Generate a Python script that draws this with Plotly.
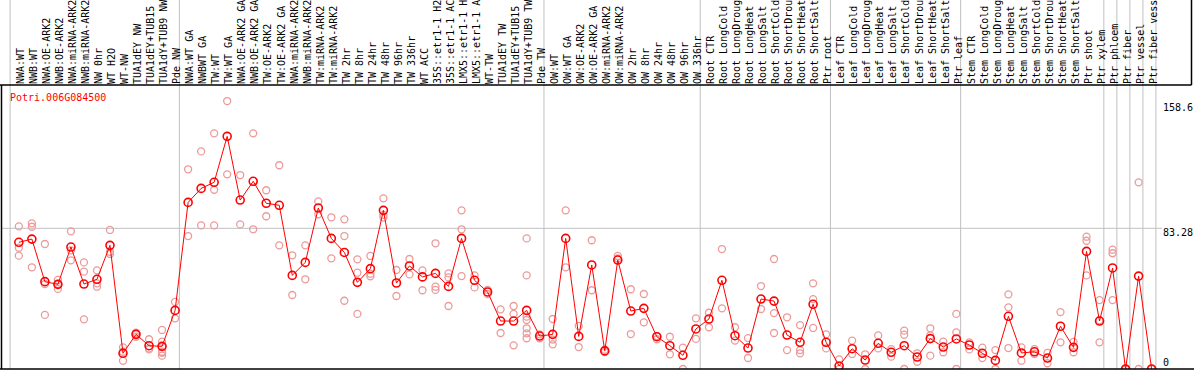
import plotly.graph_objects as go

categories = [
    "NWA:WT", "NWB:WT", "NWA:OE-ARK2", "NWB:OE-ARK2", "NWA:miRNA-ARK2", "NWB:miRNA-ARK2",
    "NW 0hr", "WT H2O", "WT-NW", "TUA1dEY NW", "TUA1dEY+TUB15 NW", "TUA1dY+TUB9 NW", "Pde NW",
    "NWA:WT GA", "NWBWT GA", "TW:WT", "TW:WT GA", "NWA:OE-ARK2 GA", "NWB:OE-ARK2 GA",
    "TW:OE-ARK2", "TW:OE-ARK2 GA", "NWA:miRNA-ARK2 GA", "NWB:miRNA-ARK2 GA", "TW:miRNA-ARK2",
    "TW:miRNA-ARK2 GA", "TW 2hr", "TW 8hr", "TW 24hr", "TW 48hr", "TW 96hr", "TW 336hr",
    "WT ACC", "35S::etr1-1 H2O", "35S::etr1-1 ACC", "LMX5::etr1-1 H2O", "LMX5::etr1-1 ACC",
    "WT-TW", "TUA1dEY TW", "TUA1dEY+TUB15 TW", "TUA1dY+TUB9 TW", "Pde TW",
    "OW:WT", "OW:WT GA", "OW:OE-ARK2", "OW:OE-ARK2 GA", "OW:miRNA-ARK2", "OW:miRNA-ARK2 GA",
    "OW 2hr", "OW 8hr", "OW 24hr", "OW 48hr", "OW 96hr", "OW 336hr",
    "Root CTR", "Root LongCold", "Root LongDrought", "Root LongHeat", "Root LongSalt",
    "Root ShortCold", "Root ShortDrought", "Root ShortHeat", "Root ShortSalt", "Ptr root",
    "Leaf CTR", "Leaf LongCold", "Leaf LongDrought", "Leaf LongHeat", "Leaf LongSalt",
    "Leaf ShortCold", "Leaf ShortDrought", "Leaf ShortHeat", "Leaf ShortSalt", "Ptr leaf",
    "Stem CTR", "Stem LongCold", "Stem LongDrought", "Stem LongHeat", "Stem LongSalt",
    "Stem ShortCold", "Stem ShortDrought", "Stem ShortHeat", "Stem ShortSalt", "Ptr shoot",
    "Ptr xylem", "Ptr phloem", "Ptr fiber", "Ptr vessel", "Ptr fiber vessel",
]

means = [
    75.0, 76.9, 51.7, 50.1, 72.2, 50.3, 53.1, 73.2, 9.3, 20.5, 13.8, 13.4, 34.7,
    98.6, 106.9, 110.5, 137.7, 100.0, 111.1, 98.1, 96.9, 55.4, 63.1, 95.3, 77.3,
    69.0, 51.3, 59.4, 93.9, 50.9, 61.0, 54.5, 56.6, 48.9, 77.3, 52.5, 45.6, 28.4,
    28.4, 34.7, 19.5,
    20.5, 77.3, 19.3, 61.6, 10.7, 64.5, 34.3, 35.9, 19.1, 13.8, 8.1, 23.7,
    29.6, 52.5, 19.7, 12.4, 41.4, 40.2, 20.1, 15.8, 38.3, 15.8,
    1.8, 12.0, 5.3, 15.2, 9.9, 13.8, 7.1, 18.0, 13.0, 17.8,
    14.2, 9.3, 5.1, 31.2, 9.5, 10.2, 6.5, 25.3, 12.8, 69.6, 28.4,
    59.8, 0.0, 55.0, 0.0,
]

replicates = [
    [84.4, 71.8, 67.1], [86.2, 84.2, 60.2], [74.0, 50.3, 32.0], [52.7, 47.4, 50.3],
    [81.5, 70.2, 64.3], [63.1, 57.6, 29.4], [58.4, 50.7, 48.7], [82.3, 69.4, 68.1],
    [12.8, 4.9, 10.2], [21.5, 19.1, 21.0], [17.6, 11.6, 12.2],
    [23.1, 16.2, 13.4, 10.2, 7.9, 9.6], [39.7, 30.0],
    [118.2, 78.7], [128.8, 85.0], [139.5, 106.1, 85.0], [158.6, 115.2], [114.8, 85.6],
    [139.5, 82.7], [105.8, 90.4], [120.6, 73.2], [67.3, 43.8], [73.2, 53.1], [99.2, 91.6],
    [89.8, 65.5], [88.6, 78.7, 40.4], [64.9, 57.0, 32.6], [66.9, 56.4, 54.9],
    [101.0, 89.6, 91.2], [58.6, 43.2], [65.1, 56.0], [58.4, 46.6], [74.4, 48.7, 46.8],
    [56.6, 54.2, 37.3], [93.9, 82.7, 55.0], [55.4, 48.3], [44.4, 46.8], [35.3, 21.3],
    [37.3, 32.6, 14.0], [77.3, 55.4, 31.0, 29.0, 24.1, 21.1, 18.2], [20.5, 18.2],
    [29.6, 14.6, 17.4], [93.9, 60.2], [25.5, 13.0], [76.2, 46.6], [11.4, 10.0],
    [66.9, 65.5], [47.2, 20.7], [44.4, 27.6], [17.6, 19.5], [19.1, 8.7], [12.6, 0.0],
    [30.0, 17.8],
    [33.3, 24.7], [71.0, 35.9], [24.7, 16.8], [18.3, 6.5], [49.1, 35.5],
    [65.1, 33.1, 21.3], [30.6, 11.2], [26.0, 11.2, 9.3], [50.7, 41.4, 24.3], [20.5, 12.2],
    [5.7, 0.0], [16.8, 8.9], [8.7, 0.0], [19.9, 12.2], [11.8, 7.3], [22.7, 20.3, 0.0],
    [9.3, 4.3], [24.1, 19.9, 7.9], [16.2, 9.9], [32.6, 21.7, 0.0],
    [15.8, 11.6], [12.6, 6.5], [11.2, 0.0], [44.2, 36.5, 12.4], [12.8, 4.9], [11.8, 8.9],
    [9.5, 3.4], [33.7, 15.8], [16.0, 9.9], [78.3, 75.9, 55.4], [40.8, 15.8, 28.9],
    [70.6, 68.5, 40.8], [0.0, 0.0], [110.5, 0.0], [0.0],
]

group_starts = [0, 13, 41, 53, 63, 73, 84, 85, 86, 87, 88]
y_ticks = [158.6, 83.28, 0]
gene = "Potri.006G084500"

MONO = "DejaVu Sans Mono"
W, H = 1194, 370
ML, MR, MT, MB = 1, 33, 85, 1
plot_w = W - ML - MR
plot_h = H - MT - MB
x_min, x_max = -1.37, 87.72
y_min, y_max = 0, 168.1

idx = list(range(len(categories)))
rep_x, rep_y = [], []
for i, reps in enumerate(replicates):
    for v in reps:
        rep_x.append(i)
        rep_y.append(v)

fig = go.Figure()
fig.add_trace(go.Scatter(
    x=rep_x, y=rep_y, mode="markers",
    marker=dict(symbol="circle-open", size=7, color="#ec9a9a", line=dict(width=1.3)),
    hoverinfo="skip", showlegend=False,
))
fig.add_trace(go.Scatter(
    x=idx, y=means, mode="lines+markers",
    line=dict(color="#ff0000", width=1),
    marker=dict(symbol="circle-open", size=8, color="#ff0000", line=dict(width=1.6)),
    showlegend=False,
))


def xpaper_from_px(px):
    return (px - ML) / plot_w


def xpaper_from_idx(v):
    return (v - x_min) / (x_max - x_min)


shapes = []
top_paper = 1 + MT / plot_h
for b in group_starts:
    xp = xpaper_from_idx(b - 0.67)
    shapes.append(dict(type="line", xref="paper", yref="paper", x0=xp, x1=xp,
                       y0=0, y1=top_paper, line=dict(color="#c0c0c0", width=1), layer="below"))
shapes.append(dict(type="line", xref="paper", yref="y", x0=0, x1=xpaper_from_px(1162),
                   y0=y_ticks[1], y1=y_ticks[1], line=dict(color="#c0c0c0", width=1), layer="below"))
black = dict(color="#000000", width=1.5)
shapes += [
    dict(type="line", xref="paper", yref="paper", x0=xpaper_from_px(0), x1=xpaper_from_px(1191.5),
         y0=1, y1=1, line=black),
    dict(type="line", xref="paper", yref="paper", x0=xpaper_from_px(1.5), x1=xpaper_from_px(1.5),
         y0=0, y1=1, line=black),
    dict(type="line", xref="paper", yref="paper", x0=xpaper_from_px(0), x1=xpaper_from_px(W),
         y0=0, y1=0, line=black),
    dict(type="line", xref="paper", yref="paper", x0=xpaper_from_px(1191.5), x1=xpaper_from_px(1191.5),
         y0=1, y1=top_paper, line=black),
]

annotations = [
    dict(text=gene, xref="paper", yref="paper", x=xpaper_from_px(8), y=(H - MB - 97) / plot_h,
         xanchor="left", yanchor="middle", showarrow=False,
         font=dict(family=MONO, size=10, color="#ff0000")),
]
for v, shift in zip(y_ticks, [-6, -4.5, 7]):
    annotations.append(dict(text=str(v), xref="paper", yref="y", x=xpaper_from_px(1161), y=v,
                            xanchor="left", yanchor="middle", yshift=shift, showarrow=False,
                            font=dict(family=MONO, size=10, color="#000000")))

fig.update_layout(
    width=W, height=H, template="none",
    margin=dict(l=ML, r=MR, t=MT, b=MB, pad=0),
    paper_bgcolor="white", plot_bgcolor="white",
    showlegend=False,
    xaxis=dict(range=[x_min, x_max], side="top", tickmode="array", tickvals=idx,
               ticktext=categories, tickangle=-90, ticks="", showgrid=False, zeroline=False,
               showline=False, automargin=False, ticklabelstandoff=0, ticklabelshift=2,
               tickfont=dict(family=MONO, size=10, color="#000000")),
    yaxis=dict(range=[y_min, y_max], showticklabels=False, showgrid=False, zeroline=False,
               showline=False, ticks="", automargin=False),
    shapes=shapes,
    annotations=annotations,
)

fig.write_html("out.html", config={"displayModeBar": False},
               post_script="document.body.style.margin='0';")
